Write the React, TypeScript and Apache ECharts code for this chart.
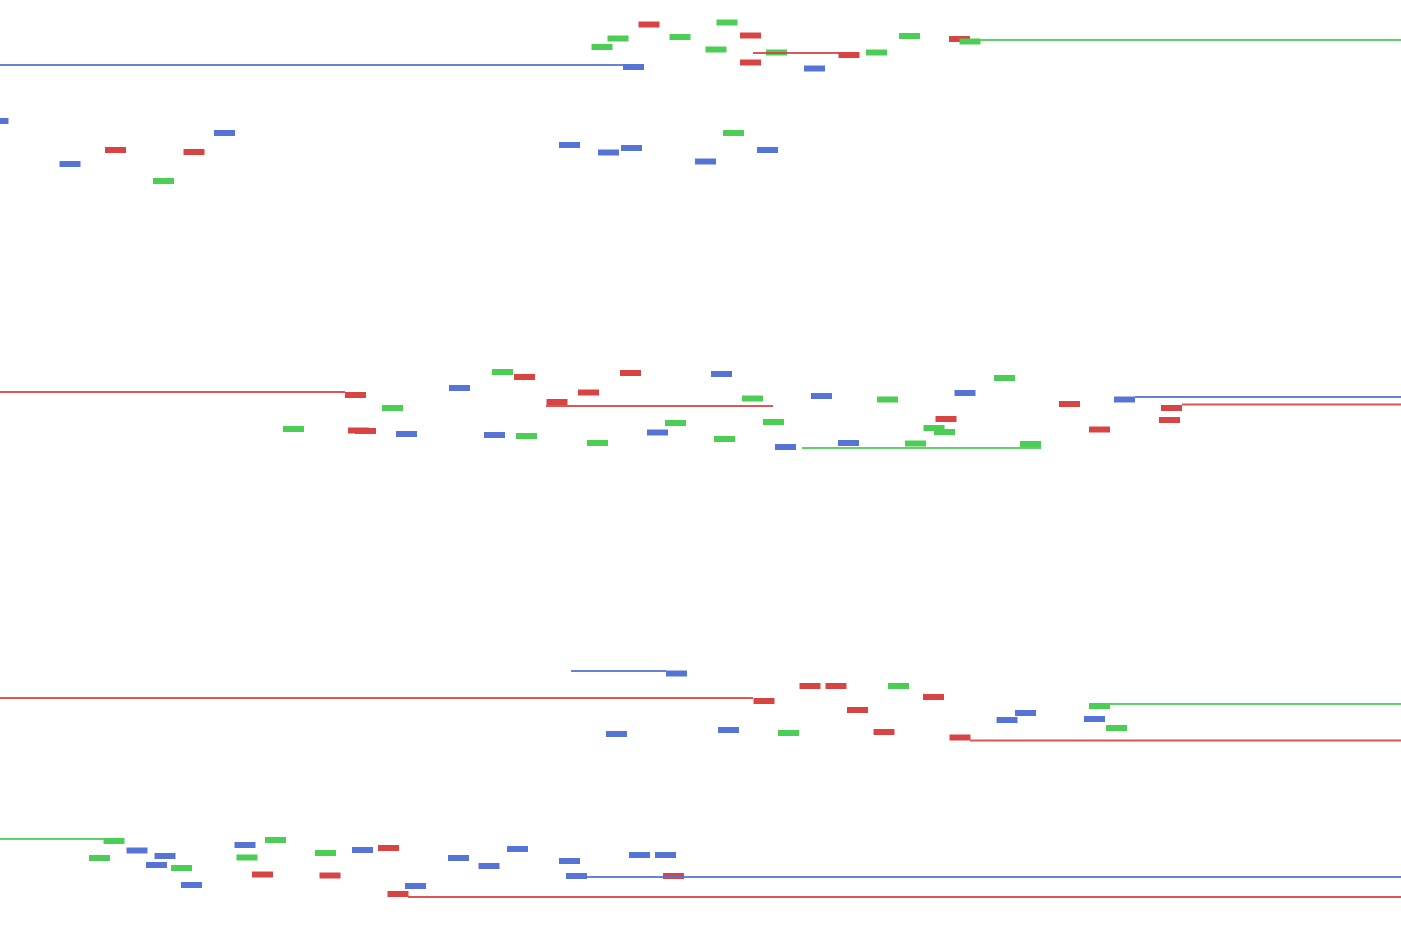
import React, { useEffect, useRef } from "react";
import * as echarts from "echarts";

// Categories / series
const seriesNames = ["Blue", "Red", "Green"];
const colors = ["#5673d6", "#d84444", "#4ccd55"];

// Marks: [x, y] values (x axis 0..1401, y axis 0..935 top-down)
const bluePoints: number[][] = [
  [-2, 121], [70, 164], [224.5, 133], [569.5, 145], [608.5, 152.5], [631.5, 148], [705.5, 161.5], [767.5, 150],
  [633.5, 67], [814.5, 68.5],
  [406.5, 434], [459.5, 388], [494.5, 435], [657.5, 432.5], [721.5, 374], [785.5, 447], [821.5, 396], [848.5, 443],
  [965, 393], [1124.5, 399.5],
  [676.5, 673.5], [616.5, 734], [728.5, 730], [1007, 720], [1025.5, 713], [1094.5, 719],
  [137, 850.5], [165, 856], [156.5, 865], [191.5, 885], [245, 845], [362.5, 850], [415.5, 886], [458.5, 858],
  [489, 866], [517.5, 849], [569.5, 861], [576.5, 876], [639.5, 855], [665.5, 855],
];

const redPoints: number[][] = [
  [649, 24.5], [750.5, 35.5], [750.5, 62.5], [849, 55], [959.5, 39],
  [115.5, 150], [194, 152],
  [355.5, 395], [358.5, 430.5], [365.5, 431], [524.5, 377], [557, 402], [588.5, 392.5], [630.5, 373], [946, 419],
  [1069.5, 404], [1099.5, 429.5], [1171.5, 408], [1169.5, 420],
  [764, 701], [810, 686], [836, 686], [857.5, 710], [933.5, 697], [884, 732], [960, 737.5],
  [262.5, 874.5], [330, 875.5], [388.5, 848], [398, 894], [673.5, 876],
];

const greenPoints: number[][] = [
  [602, 47], [618, 38.5], [680, 37], [727, 22.5], [716, 49.5], [776.5, 52.5], [876.5, 52.5], [909.5, 36], [970, 41.5],
  [163.5, 181], [733.5, 133],
  [392.5, 408], [293.5, 429], [502.5, 372], [526.5, 436], [597.5, 443], [675.5, 423], [752.5, 398.5], [724.5, 439],
  [773.5, 422], [887.5, 399.5], [915.5, 443.5], [934, 428], [944.5, 432], [1004.5, 378], [1030.5, 444],
  [788.5, 733], [898.5, 686], [1099.5, 706], [1116.5, 728],
  [114, 841], [99.5, 858], [181.5, 868], [275.5, 840], [247, 857.5], [325.5, 853],
];

// Level segments: [xStart, xEnd, y]
const blueSegments: number[][] = [
  [0, 623, 65], [571, 666, 671], [1135, 1401, 397], [587, 1401, 877],
];
const redSegments: number[][] = [
  [753, 859, 53], [0, 345, 392], [546, 773, 406], [0, 753, 698], [970, 1401, 740.5], [408, 1401, 897], [1182, 1401, 404.5],
];
const greenSegments: number[][] = [
  [980, 1401, 40], [802, 1041, 448], [1110, 1401, 704], [0, 104, 839],
];

export default function App() {
  const ref = useRef<HTMLDivElement>(null);
  useEffect(() => {
    if (!ref.current) return;
    const chart = echarts.init(ref.current, null, { renderer: "svg" });
    const pointSets = [bluePoints, redPoints, greenPoints];
    const segSets = [blueSegments, redSegments, greenSegments];
    const series: any[] = [];
    pointSets.forEach((pts, i) => {
      series.push({
        type: "scatter",
        name: seriesNames[i],
        data: pts,
        symbol: "rect",
        symbolSize: [21, 6],
        clip: false,
        silent: true,
        itemStyle: { color: colors[i], opacity: 1 },
      });
    });
    segSets.forEach((segs, i) => {
      segs.forEach((s) => {
        series.push({
          type: "line",
          name: seriesNames[i],
          data: [[s[0], s[2]], [s[1], s[2]]],
          showSymbol: false,
          symbol: "none",
          clip: false,
          silent: true,
          lineStyle: { color: colors[i], width: 2, opacity: 0.9 },
        });
      });
    });
    chart.setOption({
      animation: false,
      backgroundColor: "#ffffff",
      grid: { left: 0, right: 0, top: 0, bottom: 0 },
      xAxis: { type: "value", min: 0, max: 1401, show: false },
      yAxis: { type: "value", min: 0, max: 935, inverse: true, show: false },
      series,
    });
    return () => chart.dispose();
  }, []);
  return (
    <div
      ref={ref}
      style={{ position: "absolute", left: 0, top: 0, width: 1401, height: 935 }}
    />
  );
}
